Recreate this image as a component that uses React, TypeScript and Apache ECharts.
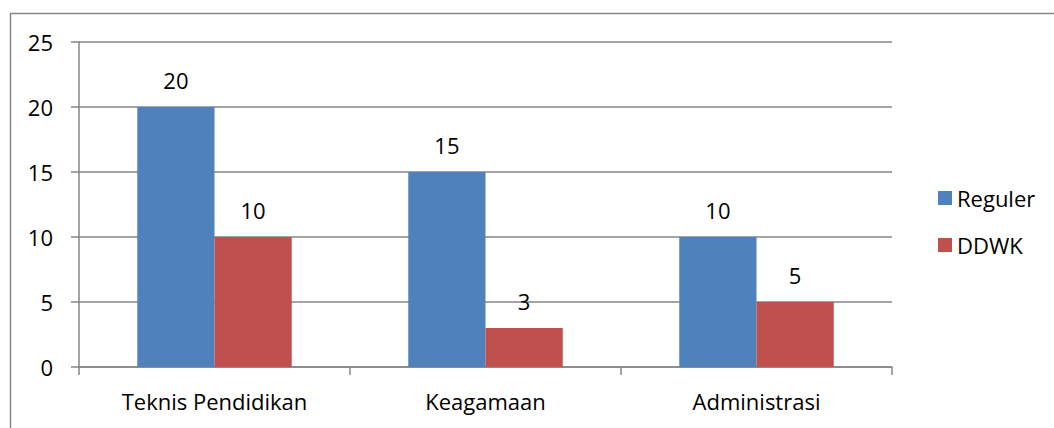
import React, { useEffect, useRef } from "react";
import * as echarts from "echarts";

const categories = ["Teknis Pendidikan", "Keagamaan", "Administrasi"];
const reguler = [20, 15, 10];
const ddwk = [10, 3, 5];
const seriesNames = ["Reguler", "DDWK"];

const FONT = "Open Sans";
const FS = 22;

export default function App() {
  const ref = useRef<HTMLDivElement>(null);
  useEffect(() => {
    document.body.style.margin = "0";
    const chart = echarts.init(ref.current!, null, { renderer: "svg" });
    const label = {
      show: true,
      position: "top" as const,
      distance: 16,
      color: "#000",
      fontFamily: FONT,
      fontSize: FS,
    };
    chart.setOption({
      animation: false,
      backgroundColor: "#fff",
      textStyle: { fontFamily: FONT },
      graphic: [
        {
          type: "rect",
          shape: { x: 10.5, y: 13.5, width: 1100, height: 600 },
          style: { fill: "none", stroke: "#868686", lineWidth: 1.5 },
          silent: true,
          z: -10,
        },
      ],
      grid: { left: 79, right: 162, top: 42, bottom: 61 },
      legend: {
        orient: "vertical",
        left: 933,
        top: 182,
        itemWidth: 14,
        itemHeight: 14,
        itemGap: 25,
        icon: "rect",
        textStyle: { fontFamily: FONT, fontSize: FS, color: "#000" },
        data: seriesNames,
      },
      xAxis: {
        type: "category",
        data: categories,
        axisLine: { lineStyle: { color: "#868686", width: 1.5 } },
        axisTick: { show: true, length: 8, alignWithLabel: false, lineStyle: { color: "#868686", width: 1.5 } },
        axisLabel: { color: "#000", fontFamily: FONT, fontSize: FS, margin: 23 },
      },
      yAxis: {
        type: "value",
        min: 0,
        max: 25,
        interval: 5,
        axisLine: { show: true, lineStyle: { color: "#868686", width: 1.5 } },
        axisTick: { show: true, length: 8, lineStyle: { color: "#868686", width: 1.5 } },
        splitLine: { show: true, lineStyle: { color: "#868686", width: 1.5 } },
        axisLabel: { color: "#000", fontFamily: FONT, fontSize: FS, margin: 26 },
      },
      series: [
        {
          name: seriesNames[0],
          type: "bar",
          data: reguler,
          barGap: "0%",
          barCategoryGap: "43%",
          itemStyle: { color: "#4F81BD" },
          label,
        },
        {
          name: seriesNames[1],
          type: "bar",
          data: ddwk,
          itemStyle: { color: "#C0504D" },
          label,
        },
      ],
    });
    return () => chart.dispose();
  }, []);
  return <div ref={ref} style={{ width: 1054, height: 428 }} />;
}
